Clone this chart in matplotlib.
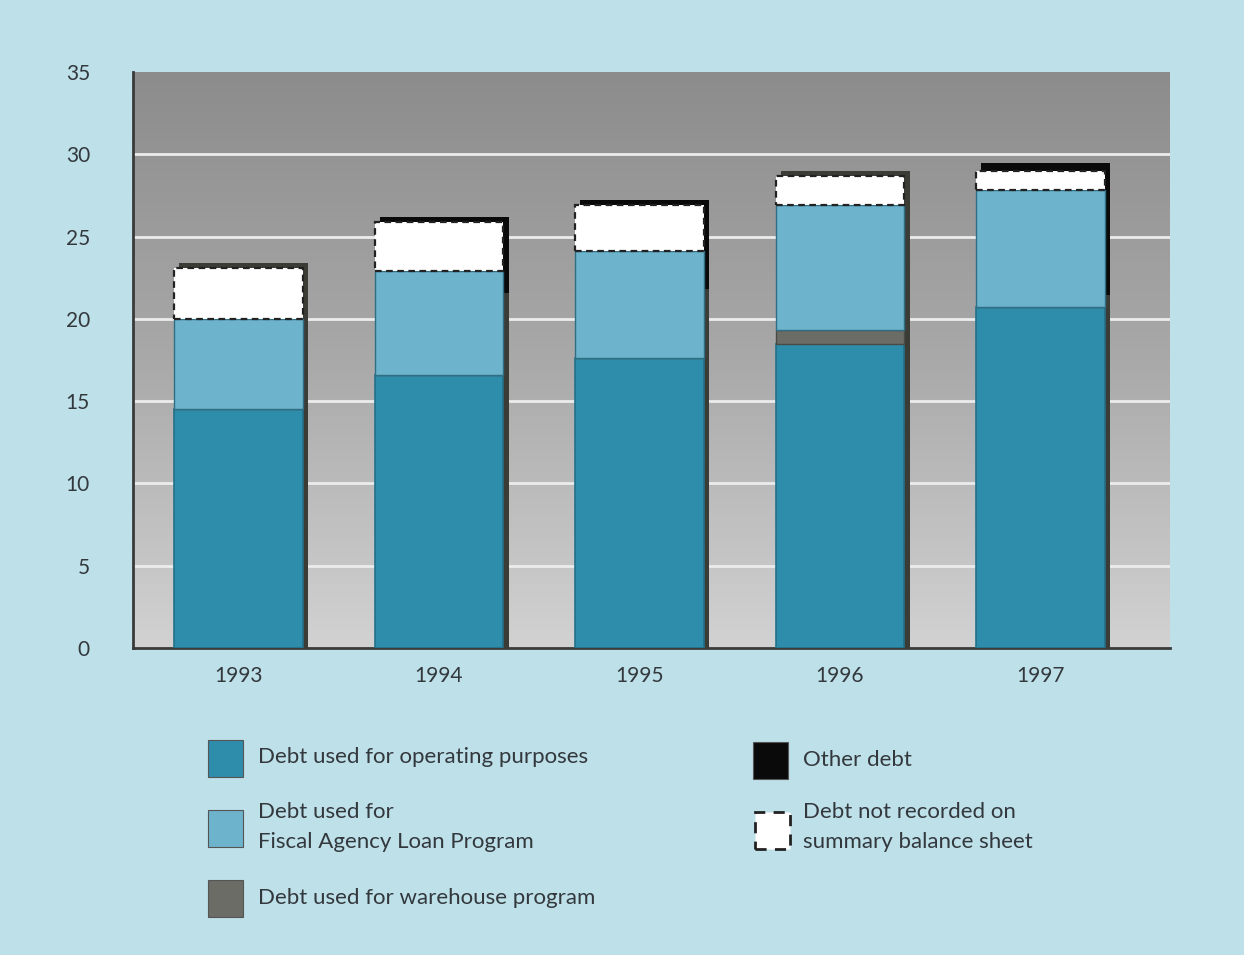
import numpy as np
import matplotlib.pyplot as plt
from matplotlib.patches import Rectangle
from matplotlib.colors import LinearSegmentedColormap

# Debt components by year (billions)
years = ["1993", "1994", "1995", "1996", "1997"]
operating = [14.5, 16.6, 17.6, 18.5, 20.7]
warehouse = [0.0, 0.0, 0.0, 0.8, 0.0]
fiscal_agency = [5.5, 6.3, 6.5, 7.6, 7.1]
not_recorded = [3.1, 3.0, 2.8, 1.8, 1.2]
backing_total = [23.4, 26.2, 27.2, 29.0, 29.45]
other_debt = [0.0, 4.6, 5.4, 0.0, 8.0]

y_ticks = [0, 5, 10, 15, 20, 25, 30, 35]

c_oper = "#2f8dac"
c_fiscal = "#6db3cb"
c_ware = "#6c6c66"
c_other = "#0a0a0a"
c_shadow = "#3c3c37"
c_bg = "#bde0e9"
c_text = "#33383d"

plt.rcParams["font.family"] = ["Lato", "DejaVu Sans"]

fig = plt.figure(figsize=(12.44, 9.55), dpi=100, facecolor=c_bg)
ax = fig.add_axes([133 / 1244, 1 - 648 / 955, (1170 - 133) / 1244, (648 - 72) / 955])

x = np.arange(len(years))
w = 0.643
dx = 0.026

ax.set_xlim(-0.526, 4.646)
ax.set_ylim(0, 35)

# grey gradient plot background
cmap = LinearSegmentedColormap.from_list("bg", ["#d2d2d2", "#a9a9a9", "#8c8c8c"])
grad = np.linspace(0, 1, 256).reshape(-1, 1)
ax.imshow(grad, extent=(-0.526, 4.646, 0, 35), origin="lower", aspect="auto",
          cmap=cmap, zorder=0)

for yv in y_ticks[1:-1]:
    ax.axhline(yv, color="#ececec", lw=2, zorder=1)

oper = np.array(operating)
ware = np.array(warehouse)
fisc = np.array(fiscal_agency)
notr = np.array(not_recorded)
tot = np.array(backing_total)
oth = np.array(other_debt)

# backing shadow with other debt on top
ax.bar(x + dx, tot, w, color=c_shadow, zorder=2)
ax.bar(x + dx, oth, w, bottom=tot - oth, color=c_other, zorder=2)

# front stack
ax.bar(x, oper, w, color=c_oper, edgecolor="#24708a", lw=1.2, zorder=3)
ax.bar(x, ware, w, bottom=oper, color=c_ware, edgecolor="#4a4a45", lw=1.0, zorder=3)
ax.bar(x, fisc, w, bottom=oper + ware, color=c_fiscal, edgecolor="#2f6f84", lw=1.0, zorder=3)
ax.bar(x, notr, w, bottom=oper + ware + fisc, color="white", edgecolor="#222222",
       lw=1.6, linestyle=(0, (3, 2)), zorder=3)

ax.set_xticks(x)
ax.set_xticklabels(years)
ax.set_yticks(y_ticks)
ax.tick_params(axis="both", length=0, labelsize=15, colors=c_text)
ax.tick_params(axis="y", pad=31)
ax.tick_params(axis="x", pad=13)
for s in ["top", "right"]:
    ax.spines[s].set_visible(False)
for s in ["left", "bottom"]:
    ax.spines[s].set_color("#3a3a3a")
    ax.spines[s].set_linewidth(2)

# legend drawn in figure pixel coordinates
def fx(px):
    return px / 1244

def fy(py):
    return 1 - py / 955

def swatch(x0, y0, color, dashed=False):
    if dashed:
        r = Rectangle((fx(x0), fy(y0 + 37)), fx(35), 37 / 955, transform=fig.transFigure,
                      facecolor="white", edgecolor="#222222", lw=2, linestyle=(0, (4, 3)))
    else:
        r = Rectangle((fx(x0), fy(y0 + 37)), fx(35), 37 / 955, transform=fig.transFigure,
                      facecolor=color, edgecolor="#555555", lw=0.8)
    fig.patches.append(r)

lfs = 16
swatch(208, 740, c_oper)
fig.text(fx(258), fy(757), "Debt used for operating purposes", fontsize=lfs, color=c_text, va="center")
swatch(208, 810, c_fiscal)
fig.text(fx(258), fy(812), "Debt used for", fontsize=lfs, color=c_text, va="center")
fig.text(fx(258), fy(842), "Fiscal Agency Loan Program", fontsize=lfs, color=c_text, va="center")
swatch(208, 880, c_ware)
fig.text(fx(258), fy(898), "Debt used for warehouse program", fontsize=lfs, color=c_text, va="center")
swatch(753, 742, c_other)
fig.text(fx(803), fy(760), "Other debt", fontsize=lfs, color=c_text, va="center")
swatch(755, 812, "white", dashed=True)
fig.text(fx(803), fy(812), "Debt not recorded on", fontsize=lfs, color=c_text, va="center")
fig.text(fx(803), fy(842), "summary balance sheet", fontsize=lfs, color=c_text, va="center")

fig.savefig("out.png", dpi=100, facecolor=c_bg)
